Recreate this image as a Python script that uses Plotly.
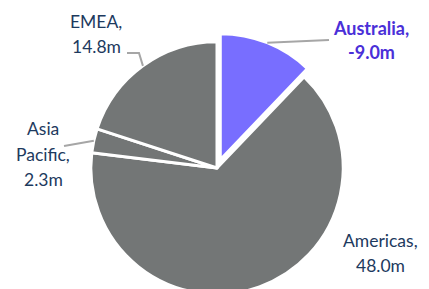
import math
import plotly.graph_objects as go

# ---- data ----
regions = ["Australia", "Americas", "Asia Pacific", "EMEA"]
values = [9.0, 48.0, 2.3, 14.8]
shown_values = [-9.0, 48.0, 2.3, 14.8]
label_lines = [["Australia,", "-9.0m"], ["Americas,", "48.0m"], ["Asia", "Pacific,", "2.3m"], ["EMEA,", "14.8m"]]

colors = ["#786EFF", "#737676", "#737676", "#737676"]
pulls = [0.07, 0, 0, 0]

W, H = 429, 303
TOP = 33  # pie box top in px
dom_y = [0, (H - TOP) / H]
cx_px = 217
dom_x = [2 * cx_px / W - 1.0, 1.0]

fig = go.Figure(go.Pie(
    labels=regions, values=values, sort=False, direction="clockwise", rotation=0,
    marker=dict(colors=colors, line=dict(color="white", width=3)),
    pull=pulls, textinfo="none", hoverinfo="label+value",
    domain=dict(x=dom_x, y=dom_y), showlegend=False,
))

# geometry (same as plotly's pie scaling) for label leader lines
box = min((dom_x[1] - dom_x[0]) * W, (dom_y[1] - dom_y[0]) * H)
R = box / (2 * (1 + max(pulls)))
cy_px = TOP + box / 2
total = sum(values)

def px2paper(x, y):
    return x / W, 1 - y / H

# label block centres (px), line spacing
label_pos = [(371, 40), (380, 253), (43, 154), (96, 34)]
line_gap = 25
navy = "#1D3A5E"
label_fonts = [dict(family="Lato", size=18, color="#4A2FD8", weight="bold"),
               dict(family="Lato", size=17.5, color=navy),
               dict(family="Lato", size=17.5, color=navy),
               dict(family="Lato", size=17.5, color=navy)]

for i, lines in enumerate(label_lines):
    lx, ly = label_pos[i]
    n = len(lines)
    for k, t in enumerate(lines):
        yy = ly + (k - (n - 1) / 2) * line_gap
        px, py = px2paper(lx, yy)
        txt = f"<b>{t}</b>" if i == 0 else t
        fig.add_annotation(x=px, y=py, xref="paper", yref="paper", text=txt,
                           showarrow=False, font=label_fonts[i], xanchor="center", yanchor="middle")

# leader lines: start at slice mid-angle on the rim
cum = 0
mids = []
for v in values:
    mids.append((cum + v / 2) / total * 2 * math.pi)
    cum += v

def rim(i):
    a = mids[i]
    ox = pulls[i] * R * math.sin(a)
    oy = -pulls[i] * R * math.cos(a)
    return cx_px + ox + R * math.sin(a), cy_px + oy - R * math.cos(a)

leader_paths = {0: [(329, 40)], 2: [(64, 146)], 3: [(139, 53), (127, 53)]}
for i, pts in leader_paths.items():
    sx, sy = rim(i)
    seq = [(sx, sy)] + pts
    path = "M " + " L ".join(f"{x / W},{1 - y / H}" for x, y in seq)
    fig.add_shape(type="path", path=path, xref="paper", yref="paper",
                  line=dict(color="#A6A6A6", width=2))

fig.update_layout(width=W, height=H, margin=dict(l=0, r=0, t=0, b=0),
                  paper_bgcolor="white", plot_bgcolor="white")

fig.write_html("out.html", config={"displayModeBar": False},
               post_script="document.documentElement.style.overflow='hidden';document.body.style.overflow='hidden';document.body.style.margin='0';")
